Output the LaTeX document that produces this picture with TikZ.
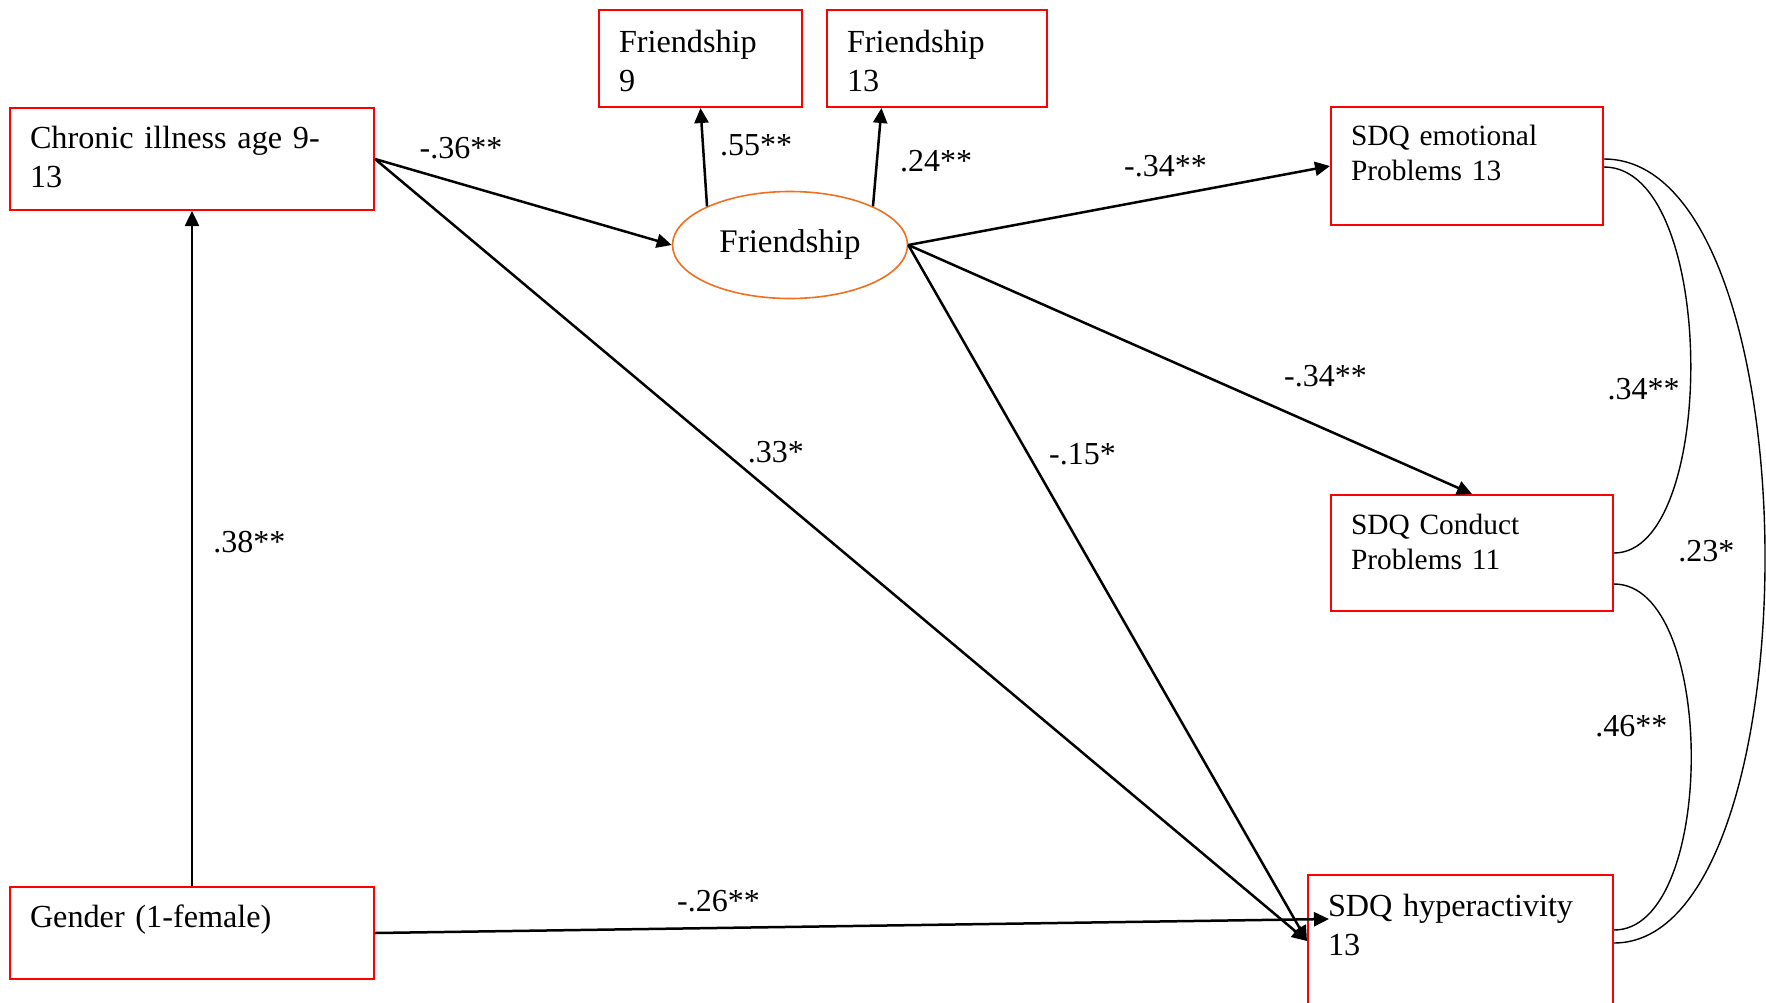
\documentclass[tikz,border=0pt]{standalone}
\usepackage{fontspec}
\setmainfont{Liberation Serif}
\usepackage{tikz}
\usetikzlibrary{arrows.meta,positioning,shapes.geometric,calc}

\definecolor{boxred}{HTML}{FF0000}
\definecolor{latentorange}{HTML}{F07020}
\newcommand{\boxfont}{\fontsize{16.1}{19.5}\selectfont}
\newcommand{\sdqfont}{\fontsize{14.7}{17.5}\selectfont}
\newcommand{\coeffont}{\fontsize{16}{19}\selectfont}

\begin{document}
\begin{tikzpicture}[
  x=0.5pt, y=-0.5pt,
  font=\boxfont,
  % Node styles
  observed/.style={rectangle, draw=boxred, line width=1pt, anchor=north west, align=left, inner xsep=10pt, inner ysep=0pt},
  latent/.style={ellipse, draw=latentorange, line width=0.8pt, inner sep=0pt, minimum width=117.5pt, minimum height=53.5pt},
  coef/.style={font=\coeffont, inner sep=0pt},
  arr/.style={-{Triangle[length=7.5pt, width=7pt]}, line width=1.25pt, color=black},
  cov/.style={line width=0.7pt, color=black}
]
  \useasboundingbox (0,0) rectangle (1766,1002);
  \clip (0,0) rectangle (1766,1002);

  % ============================================
  % Nodes
  % ============================================

  % Predictors
  \node[observed, text width=162pt, text height=20pt, text depth=31pt] (chronic) at (9,107) {Chronic illness age 9-\\13};
  \node[observed, text width=162pt, text height=20pt, text depth=26pt] (gender) at (9,886) {Gender (1-female)};

  % Latent friendship and its indicators
  \node[latent, font=\fontsize{16.5}{19.5}\selectfont] (friend) at (790,245) {Friendship};
  \node[observed, text width=81.5pt, text height=21pt, text depth=27.5pt] (friend9) at (598,9) {Friendship\\9};
  \node[observed, text width=90pt, text height=21pt, text depth=27.5pt] (friend13) at (826,9) {Friendship\\13};

  % Outcomes
  \node[observed, font=\sdqfont, text width=116pt, text height=19pt, text depth=40pt] (emotional) at (1330,106) {SDQ emotional\\Problems 13};
  \node[observed, font=\sdqfont, text width=121pt, text height=19.5pt, text depth=38.5pt] (conduct) at (1330,494) {SDQ Conduct\\Problems 11};
  \node[observed, text width=132.5pt, text height=20.5pt, text depth=45.5pt] (hyper) at (1307,874) {SDQ hyperactivity\\13};

  % ============================================
  % Paths
  % ============================================
  \draw[arr] (gender) -- node[coef, pos=.51, right=10pt] {.38**} (chronic);
  \draw[arr] (chronic.east) -- node[coef, pos=.29, above=12pt] {-.36**} (friend.west);
  \draw[arr] (chronic.east) -- node[coef, pos=.43, above=15.5pt] {.33*} (hyper.west);
  \draw[arr] (gender.east) -- node[coef, pos=.36, above=7.5pt] {-.26**} ([shift={(11pt,11pt)}]hyper.west);

  % Measurement part
  \draw[arr] (friend.155) -- node[coef, pos=.62, right=8pt] {.55**} (friend9.south);
  \draw[arr] (friend.25) -- node[coef, pos=.46, right=11pt] {.24**} ($(friend13.south west)!.25!(friend13.south east)$);

  % Friendship to outcomes
  \draw[arr] (friend.east) -- node[coef, pos=.61, above=9.5pt] {-.34**} (emotional.west);
  \draw[arr] (friend.east) -- node[coef, pos=.74, above=20.5pt] {-.34**} (conduct.north);
  \draw[arr] (friend.east) -- node[coef, pos=.30, right=10pt] {-.15*} (hyper.west);

  % Residual covariances
  \draw[cov] ([yshift=3.5pt]emotional.east) .. controls +(213,0) and +(203,0) .. node[coef, pos=.5, left=15pt] {.23*} ([yshift=-34.5pt]hyper.north east);
  \draw[cov] ([yshift=-0.5pt]emotional.east) .. controls +(114,0) and +(104,0) .. node[coef, pos=.55, left=5pt] {.34**} (conduct.east);
  \draw[cov] ([yshift=-15.5pt]conduct.east) .. controls +(103,0) and +(103,0) .. node[coef, pos=.44, left=11pt] {.46**} ([yshift=-28pt]hyper.north east);

\end{tikzpicture}
\end{document}
